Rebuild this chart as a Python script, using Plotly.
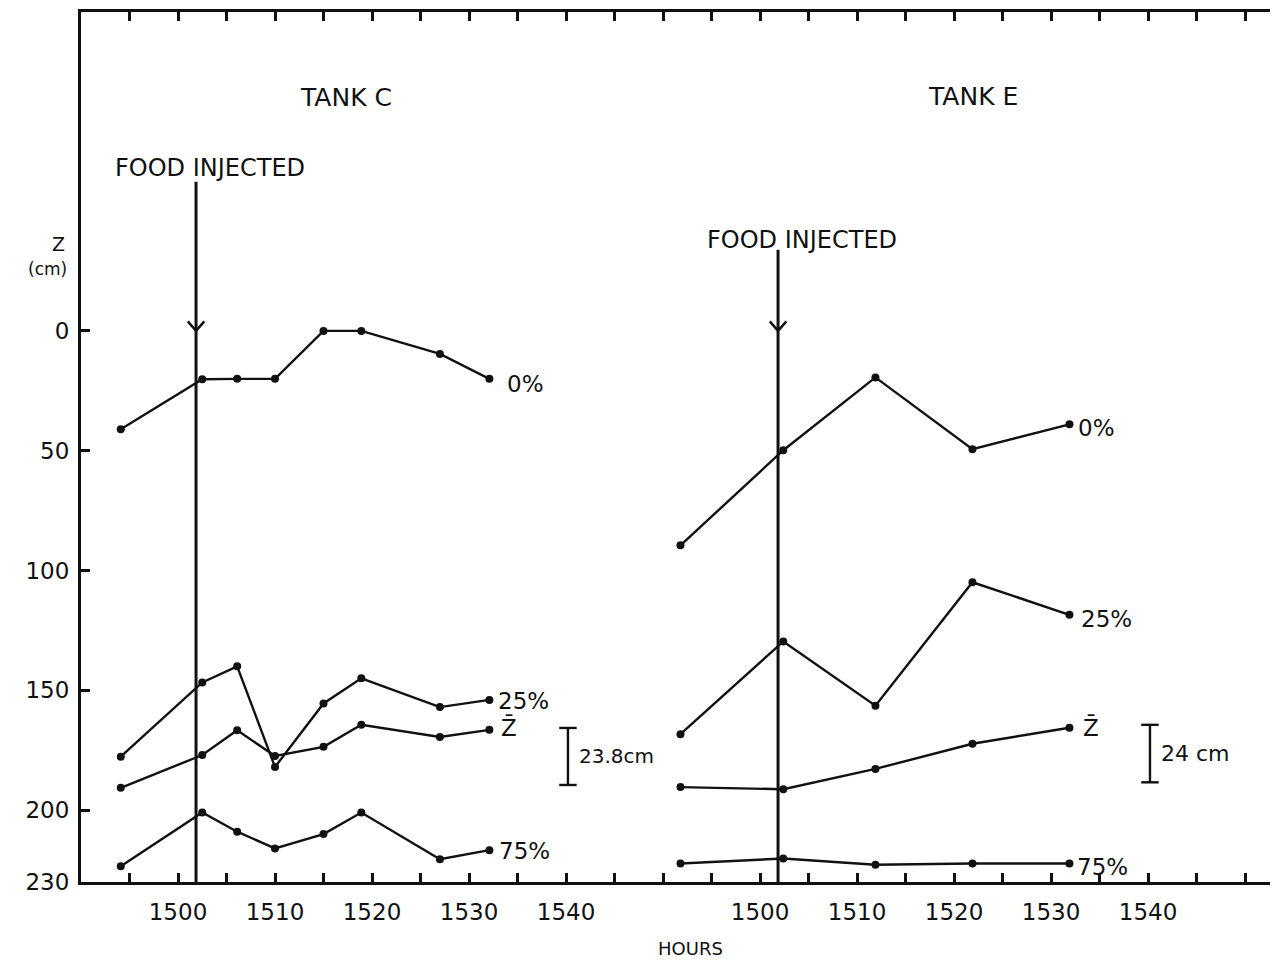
import plotly.graph_objects as go

# ---------------- data (minutes relative to 1500 h, depth Z in cm) ----------------
tank_c_minutes = [-5.9, 2.5, 6.1, 10.0, 15.0, 18.9, 27.0, 32.1]
tank_c_0 = [41, 20.2, 20, 20, 0, 0, 9.6, 20]
tank_c_25 = [177.7, 146.7, 140, 182, 155.5, 145, 157, 154]
tank_c_zbar = [190.7, 177, 166.7, 177.4, 173.6, 164.4, 169.5, 166.5]
tank_c_75 = [223.4, 201, 209, 216, 210, 201, 220.5, 216.7]

tank_e_minutes = [-8.2, 2.4, 11.9, 21.9, 31.9]
tank_e_0 = [89.5, 49.8, 19.4, 49.4, 39]
tank_e_25 = [168.3, 129.6, 156.4, 104.9, 118.5]
tank_e_zbar = [190.4, 191.3, 182.8, 172.3, 165.6]
tank_e_75 = [222.3, 220.2, 222.8, 222.3, 222.3]

series_labels = ["0%", "25%", "Z\u0304", "75%"]
tank_names = ["TANK C", "TANK E"]
food_minute = 1.86               # food injected (min after 1500)
scale_bar_cm = [23.8, 24.0]
scale_bar_labels = ["23.8cm", "24 cm"]

tick_minutes = list(range(-5, 111, 5))
tick_label_map = {0: "1500", 10: "1510", 20: "1520", 30: "1530", 40: "1540",
                  60: "1500", 70: "1510", 80: "1520", 90: "1530", 100: "1540"}
y_ticks = [0, 50, 100, 150, 200, 230]

# ---------------- layout helpers ----------------
E_OFFSET = 60  # panel offset of tank E along the shared axis
FONT = "DejaVu Sans"
INK = "#111111"

fig = go.Figure()

tanks = [
    (0, tank_c_minutes, [tank_c_0, tank_c_25, tank_c_zbar, tank_c_75]),
    (E_OFFSET, tank_e_minutes, [tank_e_0, tank_e_25, tank_e_zbar, tank_e_75]),
]

annotations = []
shapes = []

label_shift = {
    0: [(16, -5), (7, -1), (10, 2), (8, -1)],
    1: [(7, -4), (10, -4), (12, 0), (6, -3)],
}

for ti, (off, mins, series) in enumerate(tanks):
    xs = [m + off for m in mins]
    for si, vals in enumerate(series):
        fig.add_trace(go.Scatter(
            x=xs, y=vals, mode="lines+markers",
            line=dict(color=INK, width=2.4),
            marker=dict(color=INK, size=8),
            showlegend=False, hoverinfo="skip"))
        dx, dy = label_shift[ti][si]
        annotations.append(dict(
            x=xs[-1], y=vals[-1], xref="x", yref="y", text=series_labels[si],
            showarrow=False, xanchor="left", yanchor="middle",
            xshift=dx, yshift=dy, font=dict(family=FONT, size=23, color=INK)))

# food injection lines and arrowheads
food_tops = [-62.3, -33.9]
food_label_pos = [(3.3, -68.2), (64.3, -38.0)]
for ti, off in enumerate([0, E_OFFSET]):
    fx = food_minute + off
    shapes.append(dict(type="line", xref="x", yref="y", x0=fx, x1=fx,
                       y0=food_tops[ti], y1=230, line=dict(color=INK, width=3)))
    shapes.append(dict(type="path", xref="x", yref="y",
                       path=f"M {fx-0.85},{-4} L {fx},{0} L {fx+0.85},{-4}",
                       line=dict(color=INK, width=2.5)))
    lx, ly = food_label_pos[ti]
    annotations.append(dict(x=lx, y=ly, xref="x", yref="y", text="FOOD INJECTED",
                            showarrow=False, font=dict(family=FONT, size=24, color=INK)))

# tank titles
title_pos = [(17.3, -97.5), (82.0, -98.0)]
for ti, name in enumerate(tank_names):
    tx, ty = title_pos[ti]
    annotations.append(dict(x=tx, y=ty, xref="x", yref="y", text=name,
                            showarrow=False, font=dict(family=FONT, size=25, color=INK)))

# scale bars
bar_minutes = [40.2, 100.2]
bar_tops = [165.7, 164.4]
bar_font = [20, 22]
for ti in range(2):
    bx = bar_minutes[ti]
    y0 = bar_tops[ti]
    y1 = y0 + scale_bar_cm[ti]
    shapes.append(dict(type="line", xref="x", yref="y", x0=bx, x1=bx, y0=y0, y1=y1,
                       line=dict(color=INK, width=2.4)))
    for yy in (y0, y1):
        shapes.append(dict(type="line", xref="x", yref="y", x0=bx - 0.9, x1=bx + 0.9,
                           y0=yy, y1=yy, line=dict(color=INK, width=2.4)))
    annotations.append(dict(x=bx, y=(y0 + y1) / 2, xref="x", yref="y",
                            text=scale_bar_labels[ti], showarrow=False,
                            xanchor="left", yanchor="middle", xshift=9,
                            font=dict(family=FONT, size=bar_font[ti], color=INK)))

# axis labels (paper coordinates: outside the plotting area)
annotations.append(dict(x=-0.0192, y=0.7333, xref="paper", yref="paper", text="Z",
                        showarrow=False, xanchor="center", yanchor="middle",
                        font=dict(family=FONT, size=19, color=INK)))
annotations.append(dict(x=-0.0276, y=0.7046, xref="paper", yref="paper", text="(cm)",
                        showarrow=False, xanchor="center", yanchor="middle",
                        font=dict(family=FONT, size=17, color=INK)))
annotations.append(dict(x=0.509, y=-0.076, xref="paper", yref="paper", text="HOURS",
                        showarrow=False, yanchor="middle",
                        font=dict(family=FONT, size=18, color=INK)))

# page body adds an 8 px margin; compensate so the frame lands where the reference has it
fig.update_layout(
    width=1270, height=954,
    margin=dict(l=73, r=0, t=4, b=80),
    paper_bgcolor="white", plot_bgcolor="white",
    showlegend=False,
    annotations=annotations, shapes=shapes,
    xaxis=dict(range=[-10.0, 113.4], tickmode="array", tickvals=tick_minutes,
               ticktext=[tick_label_map.get(t, "") for t in tick_minutes],
               ticks="inside", ticklen=9, tickwidth=2.5, tickcolor=INK,
               showline=True, linewidth=3, linecolor=INK, mirror="ticks",
               showgrid=False, zeroline=False, ticklabelstandoff=7,
               tickfont=dict(family=FONT, size=23, color=INK)),
    yaxis=dict(range=[230, -133.1], tickmode="array", tickvals=y_ticks,
               ticktext=[str(v) for v in y_ticks],
               ticks="inside", ticklen=9, tickwidth=2.5, tickcolor=INK,
               showline=True, linewidth=3, linecolor=INK, mirror=False,
               showgrid=False, zeroline=False, ticklabelstandoff=4,
               tickfont=dict(family=FONT, size=23, color=INK)),
)

fig.write_html("out.html")
